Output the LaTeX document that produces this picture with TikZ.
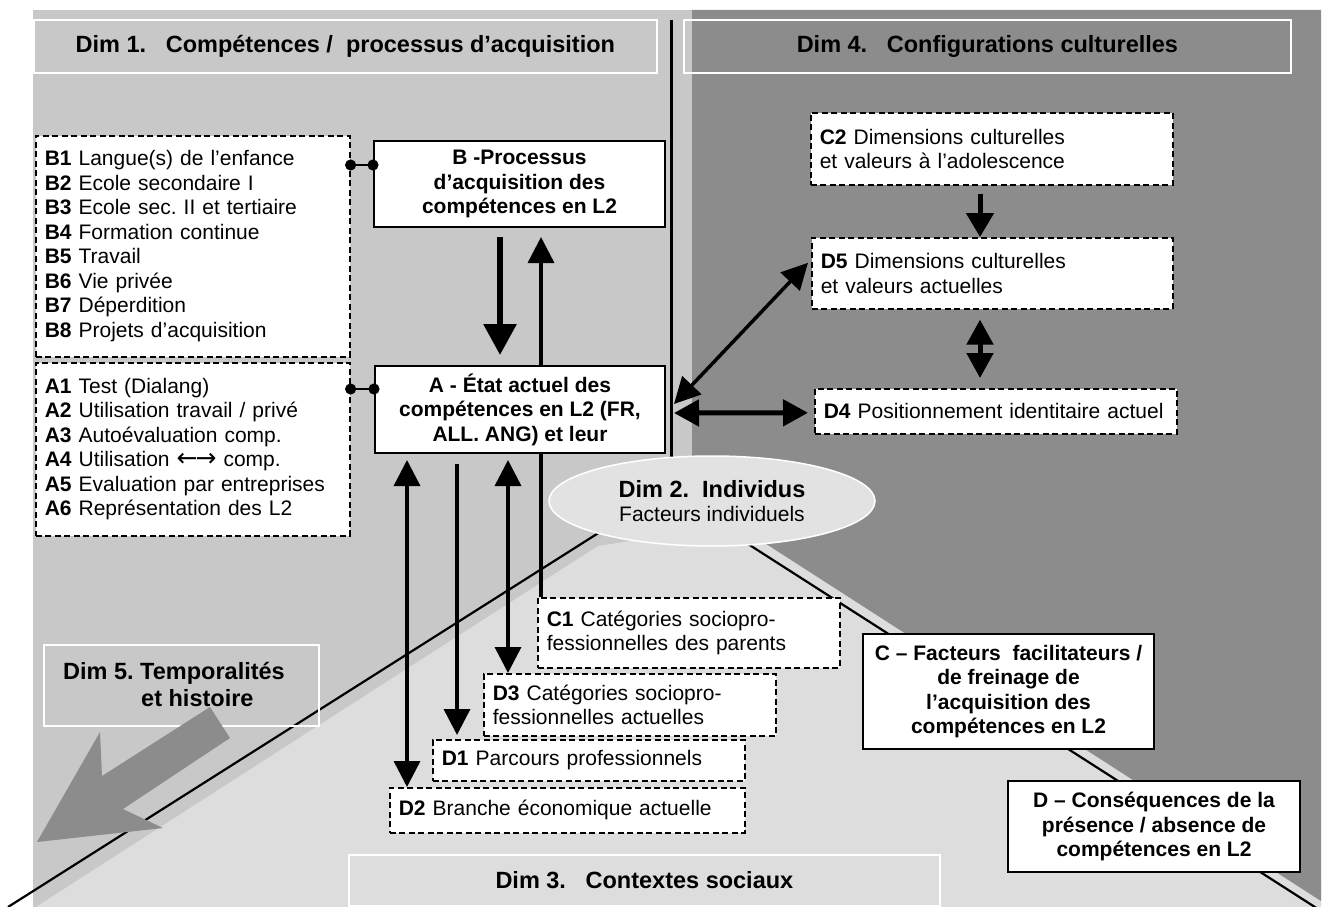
\documentclass[tikz,border=0pt]{standalone}
\usepackage{fontspec}
\setmainfont{Liberation Sans}
\newfontfamily\arrowfont{DejaVu Sans}
\usetikzlibrary{positioning, shapes.geometric, arrows.meta}
\frenchspacing

\definecolor{dimmid}{gray}{0.784}
\definecolor{dimlight}{gray}{0.865}
\definecolor{dimdark}{gray}{0.55}
\definecolor{ovalfill}{gray}{0.885}

\newcommand{\bodyfont}{\fontsize{21}{24.5}\selectfont}
\newcommand{\headfont}{\fontsize{23.5}{27}\selectfont\bfseries}

\tikzset{
  dimtitle/.style={draw=white, line width=1.8pt, anchor=north west, inner sep=0pt, font=\headfont},
  dashbox/.style={draw, fill=white, line width=1.6pt, dash pattern=on 6pt off 3.5pt,
    anchor=north west, align=left, inner xsep=9pt, inner ysep=0pt, font=\bodyfont},
  solidbox/.style={draw, fill=white, line width=2pt, anchor=north west, align=center,
    inner sep=0pt, font=\bodyfont\bfseries},
  dotlink/.style={line width=2pt, {Circle[length=11pt]}-{Circle[length=11pt]},
    shorten <=-5.5pt, shorten >=-5.5pt},
  link/.style={line width=3.5pt, -{Triangle[length=26pt,width=26pt]}},
  twolink/.style={line width=3.5pt, {Triangle[length=26pt,width=26pt]}-{Triangle[length=26pt,width=26pt]}},
  thicklink/.style={line width=5pt, -{Triangle[length=24pt,width=27pt]}},
  twothick/.style={line width=5pt, {Triangle[length=25pt,width=26pt]}-{Triangle[length=25pt,width=26pt]}},
  fatlink/.style={line width=6pt, -{Triangle[length=31pt,width=32pt]}}
}

\begin{document}
\begin{tikzpicture}[x=1pt, y=-1pt]
\useasboundingbox (0,0) rectangle (1333,907);

% the five zones
\fill[white] (0,0) rectangle (1333,907);
\fill[dimmid] (33,10) rectangle (1321,907);
\fill[dimlight] (36,907) -- (598,546) -- (760,520) -- (1321,880) -- (1321,907) -- cycle;
\fill[dimdark] (692,10) -- (1321,10) -- (1321,901) -- (760,540) -- (692,540) -- cycle;
\draw[line width=2.2pt] (8,907) -- (600,532);
\draw[line width=2.2pt] (748,544) -- (1318,909);
\draw[line width=3pt] (671,20) -- (671,470);

\node[dimtitle, minimum width=623pt, minimum height=53pt] (dim1) at (33,19)
  {Dim 1.\ \ \ Compétences /\ \ processus d’acquisition};
\node[dimtitle, minimum width=607pt, minimum height=53pt] (dim4) at (683,19)
  {Dim 4.\ \ \ Configurations culturelles};
\node[dimtitle, minimum width=591pt, minimum height=51pt] (dim3) at (348,854)
  {Dim 3.\ \ \ Contextes sociaux};

\draw[white, line width=1.8pt] (44,645) rectangle (319,726);
\fill[dimdark] (37,842) -- (100,732) -- (102,776) -- (210,707) -- (230,738)
  -- (123,809) -- (163,828) -- cycle;
\node[font=\headfont, align=left] (dim5) at (174,684)
  {Dim 5. Temporalités\\\hspace*{78pt}et histoire};

\node[ellipse, draw=white, line width=1.5pt, fill=ovalfill, minimum width=326pt,
  minimum height=90pt, inner sep=0pt, align=center, font=\bodyfont] (dim2) at (712,501)
  {{\headfont Dim 2.\ \ Individus}\\Facteurs individuels};

% left column
\node[dashbox, text width=296pt, minimum height=221pt] (blist) at (35,135)
  {\textbf{B1} Langue(s) de l’enfance\\
   \textbf{B2} Ecole secondaire I\\
   \textbf{B3} Ecole sec. II et tertiaire\\
   \textbf{B4} Formation continue\\
   \textbf{B5} Travail\\
   \textbf{B6} Vie privée\\
   \textbf{B7} Déperdition\\
   \textbf{B8} Projets d’acquisition};
\node[dashbox, text width=296pt, minimum height=173pt] (alist) at (35,362)
  {\textbf{A1} Test (Dialang)\\
   \textbf{A2} Utilisation travail / privé\\
   \textbf{A3} Autoévaluation comp.\\
   \textbf{A4} Utilisation {\arrowfont\fontsize{25}{25}\selectfont ←\kern-2pt→} comp.\\
   \textbf{A5} Evaluation par entreprises\\
   \textbf{A6} Représentation des L2};

\node[solidbox, minimum width=291pt, minimum height=86pt] (bproc) at (373,140)
  {B -Processus\\d’acquisition des\\compétences en L2};
\node[solidbox, minimum width=290pt, minimum height=87pt] (aetat) at (374,365)
  {A - État actuel des\\compétences en L2 (FR,\\ALL. ANG) et leur};

% culture side
\node[dashbox, text width=344pt, minimum height=72pt] (c2) at (810,112)
  {\textbf{C2} Dimensions culturelles\\et valeurs à l’adolescence};
\node[dashbox, text width=343pt, minimum height=71pt] (d5) at (811,237)
  {\textbf{D5} Dimensions culturelles\\et valeurs actuelles};
\node[dashbox, text width=344pt, minimum height=45pt] (d4) at (814,388)
  {\textbf{D4} Positionnement identitaire actuel};

% social side
\node[dashbox, text width=284pt, minimum height=70pt] (c1) at (537,597)
  {\textbf{C1} Catégories sociopro-\\fessionnelles des parents};
\node[dashbox, text width=274pt, minimum height=62pt] (d3) at (483,673)
  {\textbf{D3} Catégories sociopro-\\fessionnelles actuelles};
\node[dashbox, text width=294pt, minimum height=41pt] (d1) at (432,739)
  {\textbf{D1} Parcours professionnels};
\node[dashbox, text width=337pt, minimum height=45pt] (d2) at (389,787)
  {\textbf{D2} Branche économique actuelle};

\node[solidbox, minimum width=291pt, minimum height=115pt] (cfact) at (862,633)
  {C – Facteurs\ \ facilitateurs /\\de freinage de\\l’acquisition des\\compétences en L2};
\node[solidbox, minimum width=292pt, minimum height=91pt] (dcons) at (1007,780)
  {D – Conséquences de la\\présence / absence de\\compétences en L2};

% links
\coordinate (bdot) at ([yshift=19pt]bproc.west);
\coordinate (adot) at ([yshift=20.5pt]aetat.west);
\draw[dotlink] (blist.east |- bdot) -- (bdot);
\draw[dotlink] (alist.east |- adot) -- (adot);

\coordinate (xba) at (500,0);
\coordinate (xcb) at (541,0);
\coordinate (xd2) at (407,0);
\coordinate (xd1) at (457,0);
\coordinate (xd3) at (508,0);
\coordinate (xr) at (980,0);

\draw[fatlink, shorten <=9pt, shorten >=10pt] (bproc.south -| xba) -- (aetat.north -| xba);
\draw[link, shorten >=9pt] (aetat.north -| xcb) -- (bproc.south -| xcb);
\draw[line width=3.5pt] (c1.north -| xcb) -- (aetat.south -| xcb);
\draw[twolink, shorten <=6pt] (aetat.south -| xd2) -- (d2.north -| xd2);
\draw[link, shorten <=10pt, shorten >=4pt] (aetat.south -| xd1) -- (d1.north -| xd1);
\draw[twolink, shorten <=6pt] (aetat.south -| xd3) -- (d3.north -| xd3);

\draw[twolink] ([shift={(8,-5.5)}]aetat.east) -- ([shift={(-3,-10.5)}]d5.west);
\draw[twothick] ([shift={(8,3.5)}]aetat.east) -- ([shift={(-6,1.5)}]d4.west);
\draw[thicklink, shorten <=8pt] (c2.south -| xr) -- (d5.north -| xr);
\draw[twothick, shorten <=10pt, shorten >=10pt] (d5.south -| xr) -- (d4.north -| xr);
\end{tikzpicture}
\end{document}
